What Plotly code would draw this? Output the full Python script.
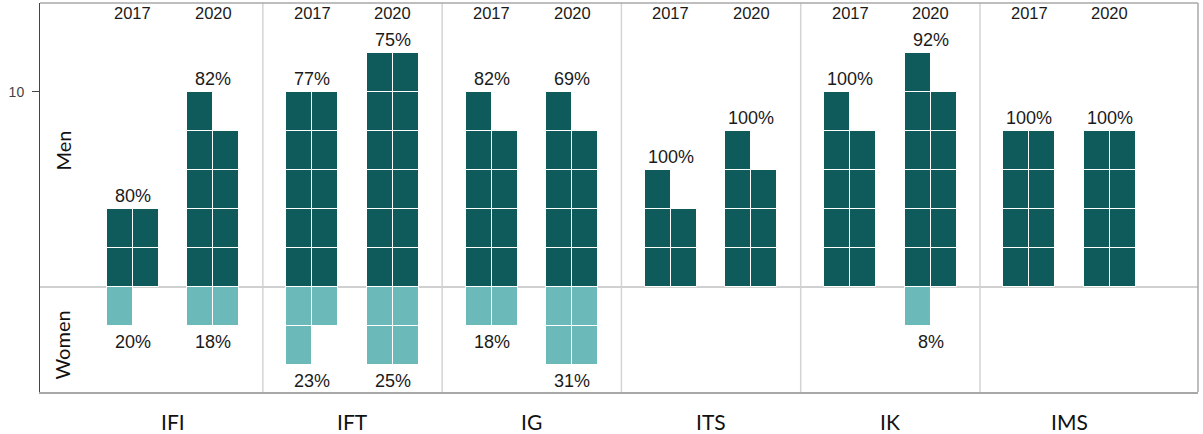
import math
import plotly.graph_objects as go

# ---------------- data ----------------
groups = ["IFI", "IFT", "IG", "ITS", "IK", "IMS"]
years = ["2017", "2020"]
men_2017 = [4, 10, 9, 5, 9, 8]
men_2020 = [9, 12, 9, 7, 11, 8]
women_2017 = [1, 3, 2, 0, 0, 0]
women_2020 = [2, 4, 4, 0, 1, 0]

# ---------------- style / layout constants ----------------
MEN_COLOR = "#0f5b5b"
WOMEN_COLOR = "#6bb9b9"
YEAR_OFFSET = 0.449      # distance between the 2017 and 2020 bar centres (group spacing = 1)
COL_W = 0.145            # width of one waffle column
ROW_H = 2                # each row of two squares holds two people
PCT_FONT = dict(family="Liberation Sans, Arial", size=18, color="#1a1a1a")
YEAR_FONT = dict(family="Liberation Sans, Arial", size=16.5, color="#1a1a1a")
GROUP_FONT = dict(family="Lato, Liberation Sans", size=21, color="#111111")

men = {"2017": men_2017, "2020": men_2020}
women = {"2017": women_2017, "2020": women_2020}

men_x, men_base, women_x, women_base = [], [], [], []
annotations = []

for g, grp in enumerate(groups):
    for j, yr in enumerate(years):
        xc = g + (j - 0.5) * YEAR_OFFSET
        m = men[yr][g]
        w = women[yr][g]
        cols = [xc - COL_W / 2, xc + COL_W / 2]
        # men: fill rows bottom-up, left column first
        for k in range(m):
            men_x.append(cols[k % 2])
            men_base.append((k // 2) * ROW_H)
        # women: fill rows top-down from zero, left column first
        for k in range(w):
            women_x.append(cols[k % 2])
            women_base.append(-(k // 2 + 1) * ROW_H)
        total = m + w
        men_top = math.ceil(m / 2) * ROW_H
        annotations.append(dict(x=xc, y=men_top, xref="x", yref="y",
                                text=f"{round(100 * m / total)}%", showarrow=False,
                                yanchor="middle", yshift=13, font=PCT_FONT))
        if w > 0:
            women_bot = -math.ceil(w / 2) * ROW_H
            annotations.append(dict(x=xc, y=women_bot, xref="x", yref="y",
                                    text=f"{round(100 * w / total)}%", showarrow=False,
                                    yanchor="middle", yshift=-16, font=PCT_FONT))
        annotations.append(dict(x=xc, y=1, xref="x", yref="paper", text=yr,
                                showarrow=False, yanchor="middle", yshift=-10,
                                font=YEAR_FONT))
    annotations.append(dict(x=g, y=0, xref="x", yref="paper", text=grp,
                            showarrow=False, yanchor="middle", yshift=-29,
                            font=GROUP_FONT))

fig = go.Figure()
fig.add_trace(go.Bar(x=men_x, y=[ROW_H] * len(men_x), base=men_base, width=COL_W,
                     marker=dict(color=MEN_COLOR, line=dict(color="white", width=1)),
                     name="Men", hoverinfo="skip"))
fig.add_trace(go.Bar(x=women_x, y=[ROW_H] * len(women_x), base=women_base, width=COL_W,
                     marker=dict(color=WOMEN_COLOR, line=dict(color="white", width=1)),
                     name="Women", hoverinfo="skip"))

# axis-side labels
annotations.append(dict(x=0, xref="paper", xshift=23, y=7, yref="y", text="Men",
                        textangle=-90, showarrow=False, xanchor="center", yanchor="middle",
                        font=dict(family="Lato, Liberation Sans", size=20, color="#111111")))
annotations.append(dict(x=0, xref="paper", xshift=22, y=-3, yref="y", text="Women",
                        textangle=-90, showarrow=False, xanchor="center", yanchor="middle",
                        font=dict(family="Lato, Liberation Sans", size=20, color="#111111")))

# group separators
shapes = []
for g in range(len(groups) - 1):
    shapes.append(dict(type="line", xref="x", yref="paper", x0=g + 0.5, x1=g + 0.5,
                       y0=0, y1=1, line=dict(color="#d4d4d4", width=1.5), layer="below"))
# top and right frame
shapes.append(dict(type="line", xref="paper", yref="paper", x0=0, x1=1, y0=1, y1=1,
                   line=dict(color="#a8a8a8", width=1.5)))
shapes.append(dict(type="line", xref="paper", yref="paper", x0=1, x1=1, y0=0, y1=1,
                   line=dict(color="#a8a8a8", width=1.5)))

fig.update_layout(
    width=1203, height=434,
    margin=dict(l=40, r=5, t=3, b=42),
    paper_bgcolor="white", plot_bgcolor="white",
    barmode="overlay", bargap=0,
    showlegend=False,
    annotations=annotations,
    shapes=shapes,
    xaxis=dict(range=[-0.743, 5.716], showticklabels=False, ticks="", showgrid=False,
               zeroline=False, showline=True, linecolor="#a8a8a8", linewidth=1.5,
               mirror=False, fixedrange=True),
    yaxis=dict(range=[-5.385, 14.56], tickvals=[10], ticktext=["10"], ticks="outside",
               ticklen=7, tickcolor="#444444", tickwidth=1, ticklabelstandoff=5,
               tickfont=dict(family="Liberation Sans, Arial", size=14, color="#444444"),
               showgrid=False, zeroline=True, zerolinecolor="#d0d0d0", zerolinewidth=1.5,
               showline=True, linecolor="#444444", linewidth=1, fixedrange=True),
)

fig.write_html(
    "out.html",
    config={"displayModeBar": False},
    post_script="document.body.style.margin='0px';document.body.style.overflow='hidden';",
)
